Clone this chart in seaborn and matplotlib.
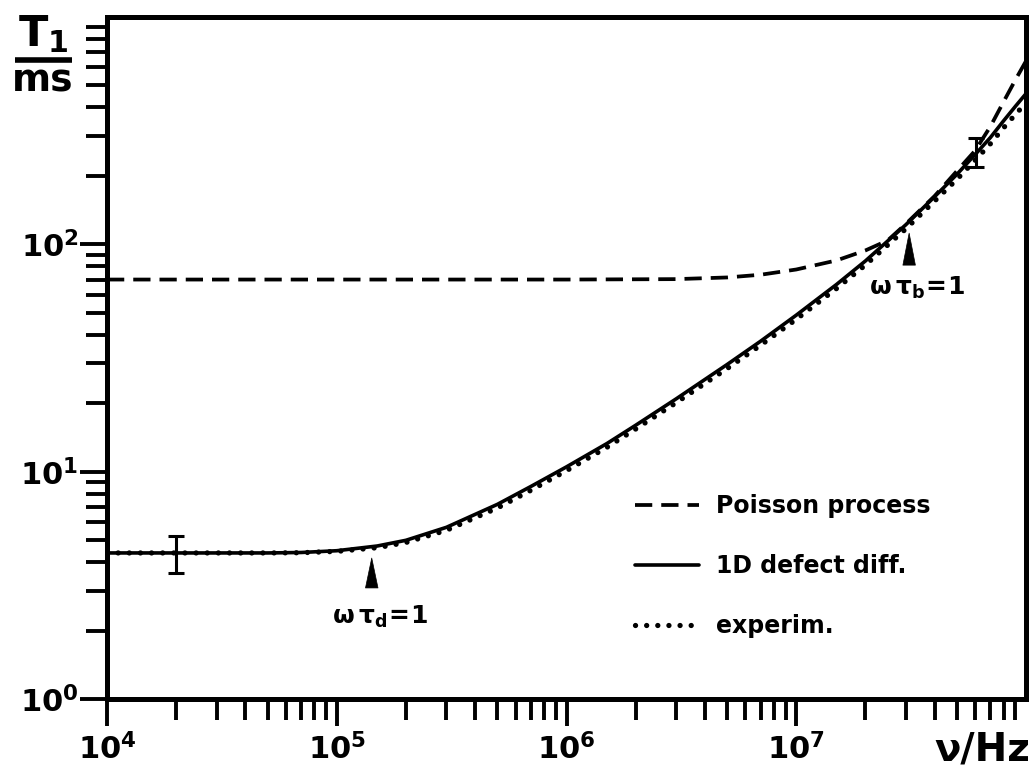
import matplotlib
matplotlib.use("Agg")
import matplotlib.pyplot as plt
import matplotlib.ticker as mticker
from matplotlib.lines import Line2D
import numpy as np
import pandas as pd
import seaborn as sns

# ---------------- data ----------------
freq = [1e4, 2e4, 3e4, 5e4, 7e4, 1e5, 1.5e5, 2e5, 3e5, 5e5, 7e5, 1e6, 1.5e6, 2e6,
        3e6, 5e6, 7e6, 1e7, 1.5e7, 2e7, 3e7, 4e7, 5e7, 6e7, 7e7, 8e7, 9e7, 1e8]
t1_defect = [4.39, 4.39, 4.39, 4.39, 4.41, 4.49, 4.71, 4.99, 5.69, 7.18, 8.61, 10.5,
             13.3, 16.0, 20.9, 29.6, 37.5, 48.8, 66.7, 84.5, 122, 162, 203, 248, 295,
             350, 405, 460]
t1_exp = [4.39, 4.39, 4.39, 4.39, 4.40, 4.46, 4.63, 4.88, 5.52, 6.92, 8.28, 10.1,
          12.8, 15.4, 20.1, 28.4, 36.0, 46.8, 64.0, 81.1, 117, 155, 193, 234, 277,
          326, 373, 419]

freq_poisson = [1e4, 1e5, 1e6, 3e6, 5e6, 7e6, 1e7, 1.5e7, 2e7, 2.5e7, 3e7, 4e7,
                5e7, 6e7, 7e7, 8e7, 9e7, 1e8]
t1_poisson = [70, 70, 70, 70.3, 71.5, 73.5, 77.5, 85, 94, 104, 123, 163,
              210, 258, 330, 425, 530, 640]

err_freq = [2e4, 6.07e7]
err_center = [4.39, 252]
err_low = [3.58, 219]
err_high = [5.21, 294]

arrow_freq = [1.42e5, 3.1e7]
arrow_tip = [4.17, 112]
arrow_base = [3.08, 81]
arrow_labels = [r"$\mathbf{\omega\,\tau_{d}\!=\!1}$", r"$\mathbf{\omega\,\tau_{b}\!=\!1}$"]
label_freq = [1.54e5, 3.36e7]
label_t1 = [2.30, 64]

legend_labels = ["Poisson process", "1D defect diff.", "experim."]
xtick_vals = [1e4, 1e5, 1e6, 1e7]
xtick_labels = [r"$\mathbf{10^{4}}$", r"$\mathbf{10^{5}}$", r"$\mathbf{10^{6}}$", r"$\mathbf{10^{7}}$"]
ytick_vals = [1e0, 1e1, 1e2]
ytick_labels = [r"$\mathbf{10^{0}}$", r"$\mathbf{10^{1}}$", r"$\mathbf{10^{2}}$"]

# ---------------- style ----------------
sns.set_theme(style="ticks")
plt.rcParams["font.family"] = ["DejaVu Sans"]
plt.rcParams["font.weight"] = "bold"
plt.rcParams["mathtext.fontset"] = "dejavusans"
plt.rcParams["text.color"] = "black"
plt.rcParams["axes.labelcolor"] = "black"
plt.rcParams["xtick.color"] = "black"
plt.rcParams["ytick.color"] = "black"
plt.rcParams["axes.edgecolor"] = "black"

fig = plt.figure(figsize=(10.32, 7.69), dpi=100)
ax = fig.add_axes([107 / 1032, 70 / 769, 919 / 1032, 682 / 769])
ax.set_xscale("log")
ax.set_yscale("log")

df_p = pd.DataFrame({"f": freq_poisson, "t": t1_poisson})
df_d = pd.DataFrame({"f": freq, "t": t1_defect})
df_e = pd.DataFrame({"f": freq, "t": t1_exp})

sns.lineplot(data=df_p, x="f", y="t", ax=ax, color="black", linewidth=2.7,
             linestyle=(0, (4.6, 2.4)), label=legend_labels[0])
sns.lineplot(data=df_d, x="f", y="t", ax=ax, color="black", linewidth=2.6,
             label=legend_labels[1])
sns.lineplot(data=df_e, x="f", y="t", ax=ax, color="black", linewidth=3.8,
             linestyle=(0, (0.01, 2.1)), dash_capstyle="round", label=legend_labels[2])

yerr = [np.array(err_center) - np.array(err_low), np.array(err_high) - np.array(err_center)]
ax.errorbar(err_freq, err_center, yerr=yerr, fmt="none", ecolor="black",
            elinewidth=2.2, capsize=6, capthick=2.2)

for f, tip, base, lab, lf, lt in zip(arrow_freq, arrow_tip, arrow_base, arrow_labels,
                                     label_freq, label_t1):
    ax.annotate("", xy=(f, tip), xytext=(f, base),
                arrowprops=dict(arrowstyle="wedge,tail_width=0.75,shrink_factor=0.5",
                                fc="black", ec="black", lw=0.5,
                                shrinkA=0, shrinkB=0), annotation_clip=False)
    ax.text(lf, lt, lab, ha="center", va="center", fontsize=18, color="black")

ax.set_xlim(1e4, 1e8)
ax.set_ylim(1, 1000)

ax.xaxis.set_major_locator(mticker.FixedLocator(xtick_vals))
ax.xaxis.set_major_formatter(mticker.FixedFormatter(xtick_labels))
ax.yaxis.set_major_locator(mticker.FixedLocator(ytick_vals))
ax.yaxis.set_major_formatter(mticker.FixedFormatter(ytick_labels))
ax.xaxis.set_minor_locator(mticker.LogLocator(base=10, subs=np.arange(2, 10), numticks=20))
ax.yaxis.set_minor_locator(mticker.LogLocator(base=10, subs=np.arange(2, 10), numticks=20))
ax.xaxis.set_minor_formatter(mticker.NullFormatter())
ax.yaxis.set_minor_formatter(mticker.NullFormatter())

ax.tick_params(which="major", direction="out", length=19.5, width=2.8, labelsize=22,
               colors="black")
ax.tick_params(which="minor", direction="out", length=15, width=2.8, colors="black")
ax.tick_params(axis="x", which="major", pad=5)
ax.tick_params(axis="y", which="major", pad=1)
ax.tick_params(top=False, right=False, which="both")

for s in ax.spines.values():
    s.set_linewidth(3.6)
    s.set_color("black")
    s.set_visible(True)

ax.set_xlabel("")
ax.set_ylabel("")

leg = ax.legend(loc="upper left", bbox_to_anchor=(0.575, 0.30), frameon=False,
                fontsize=17, handlelength=2.7, handletextpad=0.7, labelspacing=1.52,
                borderaxespad=0, borderpad=0)
for t in leg.get_texts():
    t.set_fontweight("bold")
    t.set_color("black")

# axis labels
fig.text(1030 / 1032, 1 - 750 / 769, "ν/Hz", ha="right", va="center", fontsize=28,
         fontweight="bold")
fig.text(43 / 1032, 1 - 34 / 769, r"$\mathbf{T_{1}}$", ha="center", va="center", fontsize=31)
fig.add_artist(Line2D([15 / 1032, 72 / 1032], [1 - 59.5 / 769, 1 - 59.5 / 769],
                      color="black", linewidth=4, solid_capstyle="butt",
                      transform=fig.transFigure))
fig.text(43 / 1032, 1 - 82 / 769, "ms", ha="center", va="center", fontsize=27,
         fontweight="bold")

fig.savefig("out.png", dpi=100, facecolor="white")
